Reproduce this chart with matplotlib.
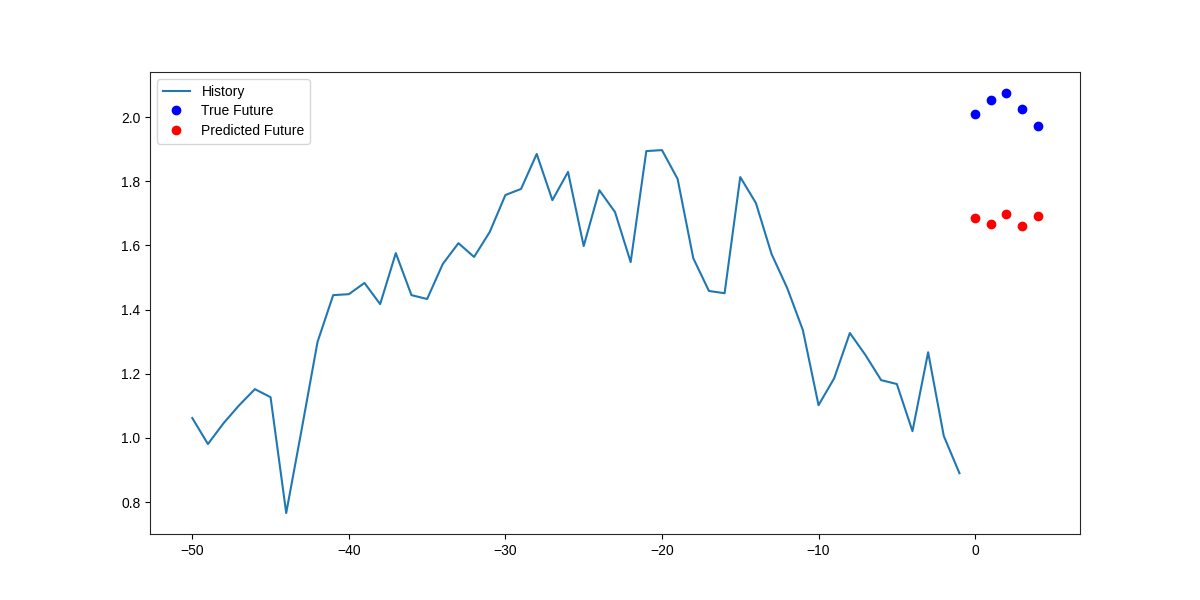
import numpy as np
import matplotlib
matplotlib.use('Agg')
import matplotlib.pyplot as plt

plt.rcParams['font.family'] = ['Liberation Sans', 'DejaVu Sans']

# History series (time steps -50 .. -1)
history_x = list(range(-50, 0))
history = [1.062, 0.981, 1.046, 1.102, 1.152, 1.127, 0.766, 1.030, 1.299, 1.445,
           1.448, 1.483, 1.417, 1.576, 1.445, 1.433, 1.542, 1.607, 1.564, 1.642,
           1.757, 1.776, 1.885, 1.741, 1.829, 1.598, 1.772, 1.704, 1.548, 1.894,
           1.897, 1.807, 1.560, 1.458, 1.451, 1.813, 1.732, 1.573, 1.467, 1.336,
           1.102, 1.186, 1.327, 1.258, 1.180, 1.168, 1.021, 1.267, 1.006, 0.890]

# Future steps
future_x = [0, 1, 2, 3, 4]
true_future = [2.009, 2.053, 2.075, 2.025, 1.972]
predicted_future = [1.685, 1.666, 1.698, 1.660, 1.691]

plt.figure(figsize=(12, 6), dpi=100)
ax = plt.gca()
plt.plot(history_x, history, label='History')
plt.plot(future_x, true_future, 'bo', label='True Future')
plt.plot(future_x, predicted_future, 'ro', label='Predicted Future')
plt.legend(loc='upper left', labelspacing=0.42)
for s in ax.spines.values():
    s.set_color('#262626')
plt.savefig('out.png', dpi=100)
